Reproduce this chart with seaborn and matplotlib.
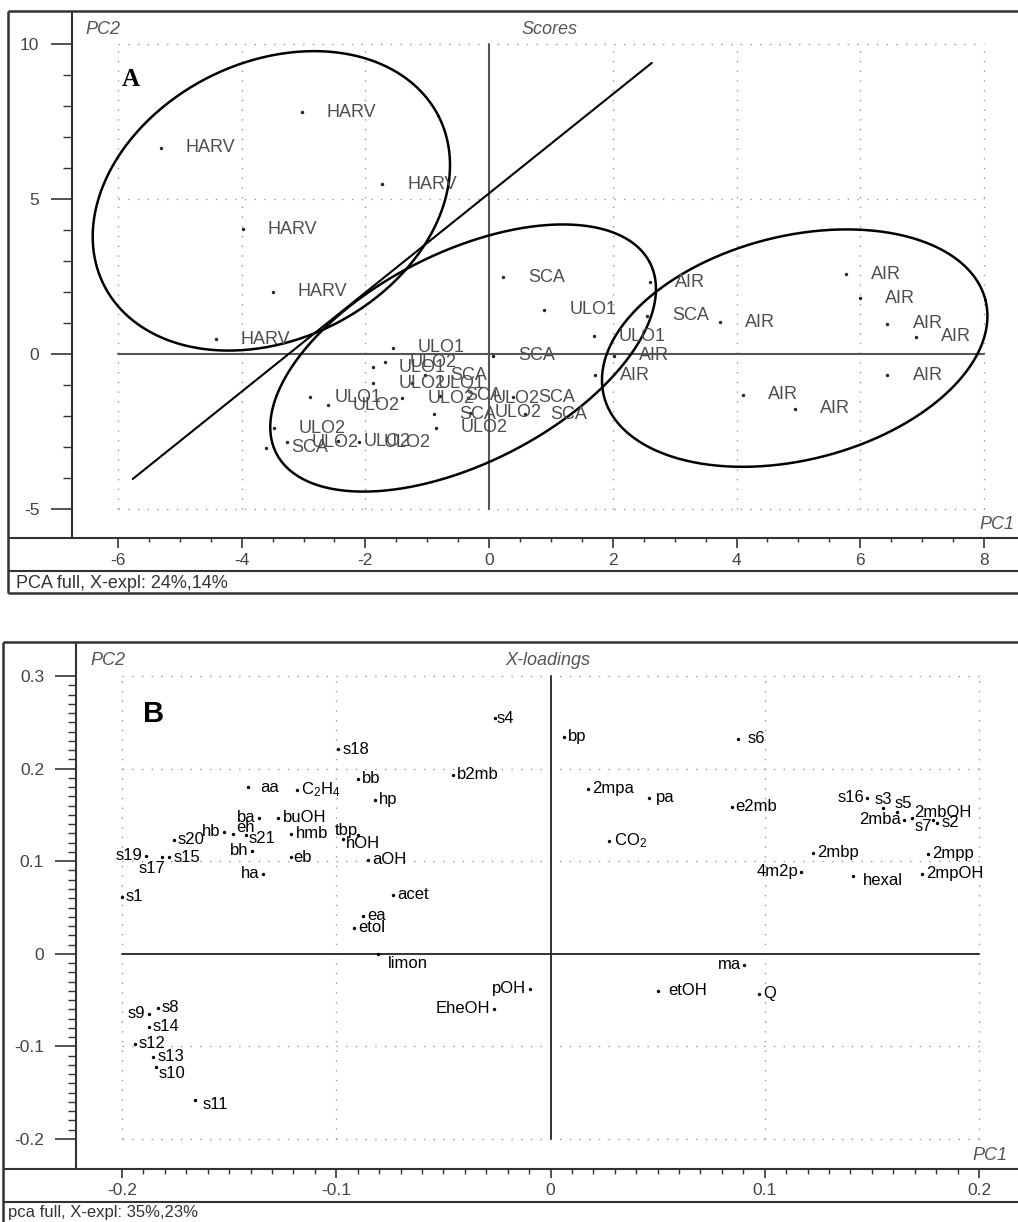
import numpy as np
import pandas as pd
import matplotlib
matplotlib.use("Agg")
import matplotlib.pyplot as plt
import seaborn as sns
from matplotlib.lines import Line2D
from matplotlib.ticker import FixedLocator

# ---------------- panel A: scores ----------------
HARV_PC1 = [-3.03, -5.31, -1.73, -3.98, -3.50, -4.42]
HARV_PC2 = [7.80, 6.65, 5.48, 4.03, 2.00, 0.48]
ULO1_PC1 = [-1.56, -1.87, -1.24, -2.90, 0.89, 1.69]
ULO1_PC2 = [0.20, -0.42, -0.94, -1.39, 1.42, 0.58]
ULO2_PC1 = [-1.69, -1.87, -2.61, -1.40, -0.34, -0.31, -0.86, -3.48, -3.27, -2.44, -2.11]
ULO2_PC2 = [-0.26, -0.95, -1.65, -1.42, -1.42, -1.90, -2.38, -2.39, -2.84, -2.81, -2.84]
SCA_PC1 = [-1.03, -0.79, 0.39, -0.89, 0.58, -3.60, 0.23, 0.06, 2.56]
SCA_PC2 = [-0.68, -1.35, -1.39, -1.94, -1.94, -3.03, 2.48, -0.06, 1.23]
AIR_PC1 = [2.60, 2.02, 1.71, 3.73, 5.77, 6.00, 6.44, 6.90, 6.44, 4.10, 4.95]
AIR_PC2 = [2.32, -0.06, -0.68, 1.03, 2.58, 1.80, 0.97, 0.55, -0.68, -1.32, -1.77]

# hand-drawn group ellipses: centre, semi-axes (in PC1 units), tilt (deg)
ELLIPSE_CX = [-3.52, -0.42, 4.94]
ELLIPSE_CY = [4.94, -0.13, 0.19]
ELLIPSE_A = [3.03, 3.39, 3.18]
ELLIPSE_B = [2.24, 1.70, 1.81]
ELLIPSE_TILT = [26.7, 27.0, 14.1]

SEP_LINE_PC1 = [-5.76, 2.63]
SEP_LINE_PC2 = [-4.03, 9.39]

A_XTICKS = [-6, -4, -2, 0, 2, 4, 6, 8]
A_YTICKS = [-5, 0, 5, 10]

# ---------------- panel B: X-loadings ----------------
LOAD_NAMES = [
    "s18", "aa", "C$_2$H$_4$", "bb", "b2mb", "hp", "ba", "buOH", "hb", "eh",
    "s21", "hmb", "tbp", "hOH", "s20", "bh", "s19", "s17", "s15", "eb",
    "aOH", "ha", "s1", "acet", "ea", "etol", "limon", "s8", "s9", "s14",
    "s12", "s13", "s10", "s11", "EheOH", "pOH", "ma", "etOH", "Q", "bp",
    "s6", "2mpa", "pa", "e2mb", "CO$_2$", "s16", "s3", "s5", "2mbOH", "2mba",
    "s7", "s2", "2mbp", "2mpp", "4m2p", "hexal", "2mpOH", "s4",
]
LOAD_PC1 = [
    -0.0990, -0.1410, -0.1185, -0.0900, -0.0457, -0.0820, -0.1360, -0.1270, -0.1525, -0.1480,
    -0.1423, -0.1210, -0.0900, -0.0970, -0.1758, -0.1395, -0.1886, -0.1815, -0.1780, -0.1210,
    -0.0850, -0.1340, -0.2002, -0.0737, -0.0877, -0.0919, -0.0803, -0.1834, -0.1876, -0.1876,
    -0.1940, -0.1853, -0.1843, -0.1661, -0.0266, -0.0098, 0.0905, 0.0504, 0.0975, 0.0061,
    0.0877, 0.0177, 0.0462, 0.0845, 0.0275, 0.1479, 0.1554, 0.1615, 0.1689, 0.1652,
    0.1787, 0.1806, 0.1227, 0.1764, 0.1171, 0.1414, 0.1736, -0.0259,
]
LOAD_PC2 = [
    0.2210, 0.1800, 0.1770, 0.1890, 0.1935, 0.1665, 0.1470, 0.1470, 0.1320, 0.1297,
    0.1286, 0.1297, 0.1286, 0.1240, 0.1230, 0.1114, 0.1060, 0.1040, 0.1040, 0.1040,
    0.1016, 0.0865, 0.0616, 0.0638, 0.0410, 0.0281, 0.0000, -0.0584, -0.0649, -0.0789,
    -0.0973, -0.1114, -0.1222, -0.1578, -0.0595, -0.0378, -0.0119, -0.0400, -0.0432, 0.2346,
    0.2324, 0.1784, 0.1686, 0.1590, 0.1222, 0.1686, 0.1578, 0.1535, 0.1470, 0.1449,
    0.1449, 0.1416, 0.1092, 0.1081, 0.0886, 0.0843, 0.0865, 0.2546,
]
B_XTICKS = [-0.2, -0.1, 0, 0.1, 0.2]
B_YTICKS = [-0.2, -0.1, 0, 0.1, 0.2, 0.3]

# label placement for loadings: (dx pt, dy pt, ha); default is right of the dot
L = (-2.5, 0, "right")
LABEL_POS_B = {
    "aa": (8.5, 0, "left"), "ba": L, "hb": L, "eh": (2, 4.3, "left"),
    "s21": (2, -3, "left"), "tbp": (0, 3, "right"), "hOH": (2, -3.6, "left"),
    "bh": L, "s19": L, "s17": (3, -8, "right"), "eb": (1.5, 0, "left"),
    "ha": L, "limon": (6.5, -7, "left"), "s9": L, "s10": (2, -5, "left"),
    "s11": (6, -3, "left"), "EheOH": L, "pOH": L, "ma": L,
    "etOH": (7, 0, "left"), "s6": (6.5, 0, "left"), "pa": (4.5, 0, "left"),
    "s16": L, "s3": (0, 6, "center"), "s5": (-1.5, 6, "left"),
    "2mbOH": (1, 3.5, "left"), "2mba": L, "s7": (-1, -5, "right"),
    "4m2p": L, "hexal": (7, -3.6, "left"), "s4": (1, 0, "left"),
}

FIG_W, FIG_H = 1018, 1222
FRAME = "#333333"
GRID = "#9a9a9a"


def fx(px):
    return px / FIG_W


def fy(py):
    return 1 - py / FIG_H


def fig_line(fig, xs, ys, lw=1.8, color=FRAME):
    fig.add_artist(Line2D([fx(x) for x in xs], [fy(y) for y in ys],
                          transform=fig.transFigure, color=color, lw=lw,
                          solid_capstyle="butt"))


def px_axes(fig, left, top, right, bottom):
    ax = fig.add_axes([fx(left), fy(bottom), (right - left) / FIG_W, (bottom - top) / FIG_H])
    for s in ax.spines.values():
        s.set_visible(False)
    ax.set_facecolor("none")
    return ax


def style_ticks(ax, labelsize, ylen, ylen_minor, xlen, xlen_minor, ypad, xpad):
    ax.tick_params(left=True, bottom=True, top=False, right=False)
    ax.tick_params(axis="y", which="major", direction="out", length=ylen, width=1.2,
                   color=FRAME, labelcolor="#444444", labelsize=labelsize, pad=ypad)
    ax.tick_params(axis="y", which="minor", direction="out", length=ylen_minor, width=1.0,
                   color=FRAME, left=True)
    ax.tick_params(axis="x", which="major", direction="out", length=xlen, width=1.2,
                   color=FRAME, labelcolor="#444444", labelsize=labelsize, pad=xpad)
    ax.tick_params(axis="x", which="minor", direction="out", length=xlen_minor, width=1.0,
                   color=FRAME, bottom=True)


def dotted_grid(ax, xt, yt, zero_color, zero_lw):
    x0, x1, y0, y1 = min(xt), max(xt), min(yt), max(yt)
    for v in xt:
        if v != 0:
            ax.plot([v, v], [y0, y1], color=GRID, lw=1.0, ls=(0, (1, 6)), zorder=0)
    for v in yt:
        if v != 0:
            ax.plot([x0, x1], [v, v], color=GRID, lw=1.0, ls=(0, (1, 6)), zorder=0)
    ax.plot([x0, x1], [0, 0], color=zero_color, lw=zero_lw, zorder=1)
    ax.plot([0, 0], [y0, y1], color=zero_color, lw=zero_lw, zorder=1)


sns.set_theme(style="white")
plt.rcParams["font.family"] = ["Liberation Sans", "DejaVu Sans"]
plt.rcParams["mathtext.default"] = "regular"

fig = plt.figure(figsize=(FIG_W / 100, FIG_H / 100), dpi=100)
fig.patch.set_facecolor("white")

# ================= panel A =================
fig_line(fig, [8, 8], [11, 593])
fig_line(fig, [8, FIG_W], [11, 11])
fig_line(fig, [72, 72], [11, 538], lw=1.5)
fig_line(fig, [8, FIG_W], [538, 538], lw=1.5)
fig_line(fig, [8, FIG_W], [571, 571], lw=1.5)
fig_line(fig, [8, FIG_W], [593, 593])

axa = px_axes(fig, 72, 11, FIG_W, 538)
axa.set_xlim((72 - 489.1) / 61.86, (FIG_W - 489.1) / 61.86)
axa.set_ylim((354 - 538) / 31.0, (354 - 11) / 31.0)
dotted_grid(axa, A_XTICKS, A_YTICKS, "#555555", 1.5)

groups = [("HARV", HARV_PC1, HARV_PC2), ("ULO1", ULO1_PC1, ULO1_PC2),
          ("ULO2", ULO2_PC1, ULO2_PC2), ("SCA", SCA_PC1, SCA_PC2),
          ("AIR", AIR_PC1, AIR_PC2)]
df_a = pd.concat([pd.DataFrame({"pc1": xs, "pc2": ys, "label": g}) for g, xs, ys in groups],
                 ignore_index=True)
sns.scatterplot(data=df_a, x="pc1", y="pc2", color="#222222", s=6, linewidth=0,
                legend=False, ax=axa, zorder=3)
for _, r in df_a.iterrows():
    axa.annotate(r["label"], (r["pc1"], r["pc2"]), xytext=(18, 0), textcoords="offset points",
                 va="center", ha="left", fontsize=13, color="#4d4d4d", zorder=4)

# ellipses: drawn isotropically in screen space
xl, yl = axa.get_xlim(), axa.get_ylim()
bb = axa.get_position()
aspect = (bb.width * FIG_W / (xl[1] - xl[0])) / (bb.height * FIG_H / (yl[1] - yl[0]))
t = np.linspace(0, 2 * np.pi, 400)
for cx, cy, a, b, tilt in zip(ELLIPSE_CX, ELLIPSE_CY, ELLIPSE_A, ELLIPSE_B, ELLIPSE_TILT):
    th = np.deg2rad(tilt)
    u = a * np.cos(t) * np.cos(th) - b * np.sin(t) * np.sin(th)
    v = a * np.cos(t) * np.sin(th) + b * np.sin(t) * np.cos(th)
    axa.plot(cx + u, cy + v * aspect, color="black", lw=1.8, zorder=2)
axa.plot(SEP_LINE_PC1, SEP_LINE_PC2, color="black", lw=1.5, zorder=2)

axa.xaxis.set_major_locator(FixedLocator(A_XTICKS))
axa.xaxis.set_minor_locator(FixedLocator(np.arange(-6, 8.01, 0.5)))
axa.yaxis.set_major_locator(FixedLocator(A_YTICKS))
axa.yaxis.set_minor_locator(FixedLocator(np.arange(-5, 10.01, 1)))
axa.set_xticklabels([str(v) for v in A_XTICKS])
axa.set_yticklabels([str(v) for v in A_YTICKS])
style_ticks(axa, 12.5, 15, 6.5, 7, 3, 8.5, 3.5)
axa.set_xlabel("")
axa.set_ylabel("")

fig.text(fx(85), fy(30), "PC2", fontsize=13, style="italic", color="#555555", va="center")
fig.text(fx(521), fy(30), "Scores", fontsize=13, style="italic", color="#555555", va="center")
fig.text(fx(1014), fy(525), "PC1", fontsize=13, style="italic", color="#555555",
         va="center", ha="right")
fig.text(fx(122), fy(79), "A", fontsize=18, fontweight="bold", color="black", va="center",
         family=["Liberation Serif", "DejaVu Serif"])
fig.text(fx(16), fy(583), "PCA full, X-expl: 24%,14%", fontsize=13, color="#333333", va="center")

# ================= panel B =================
fig_line(fig, [3, 3], [642, FIG_H])
fig_line(fig, [3, FIG_W], [642, 642])
fig_line(fig, [76, 76], [642, 1169], lw=1.5)
fig_line(fig, [3, FIG_W], [1169, 1169], lw=1.5)
fig_line(fig, [3, FIG_W], [1202, 1202], lw=1.5)

axb = px_axes(fig, 76, 642, FIG_W, 1169)
axb.set_xlim((76 - 550.5) / 2142.5, (FIG_W - 550.5) / 2142.5)
axb.set_ylim((953.8 - 1169) / 926.0, (953.8 - 642) / 926.0)
dotted_grid(axb, B_XTICKS, B_YTICKS, "#222222", 1.3)

df_b = pd.DataFrame({"pc1": LOAD_PC1, "pc2": LOAD_PC2, "name": LOAD_NAMES})
sns.scatterplot(data=df_b, x="pc1", y="pc2", color="black", s=6, linewidth=0,
                legend=False, ax=axb, zorder=3)
for _, r in df_b.iterrows():
    dx, dy, ha = LABEL_POS_B.get(r["name"], (3, 0, "left"))
    axb.annotate(r["name"], (r["pc1"], r["pc2"]), xytext=(dx, dy), textcoords="offset points",
                 va="center", ha=ha, fontsize=12, color="black", zorder=4)

axb.xaxis.set_major_locator(FixedLocator(B_XTICKS))
axb.xaxis.set_minor_locator(FixedLocator(np.round(np.arange(-0.2, 0.2001, 0.01), 3)))
axb.yaxis.set_major_locator(FixedLocator(B_YTICKS))
axb.yaxis.set_minor_locator(FixedLocator(np.round(np.arange(-0.2, 0.3001, 0.01), 3)))
axb.set_xticklabels(["-0.2", "-0.1", "0", "0.1", "0.2"])
axb.set_yticklabels(["-0.2", "-0.1", "0", "0.1", "0.2", "0.3"])
style_ticks(axb, 12.5, 15, 5.8, 6.5, 3.5, 8, 3.5)
axb.set_xlabel("")
axb.set_ylabel("")

fig.text(fx(90), fy(660), "PC2", fontsize=13, style="italic", color="#555555", va="center")
fig.text(fx(505), fy(660), "X-loadings", fontsize=13, style="italic", color="#555555", va="center")
fig.text(fx(1007), fy(1155), "PC1", fontsize=13, style="italic", color="#555555",
         va="center", ha="right")
fig.text(fx(143), fy(714), "B", fontsize=21, fontweight="bold", color="black", va="center")
fig.text(fx(8), fy(1213), "pca full, X-expl: 35%,23%", fontsize=12, color="#333333", va="center")

fig.savefig("out.png", dpi=100, facecolor="white")
